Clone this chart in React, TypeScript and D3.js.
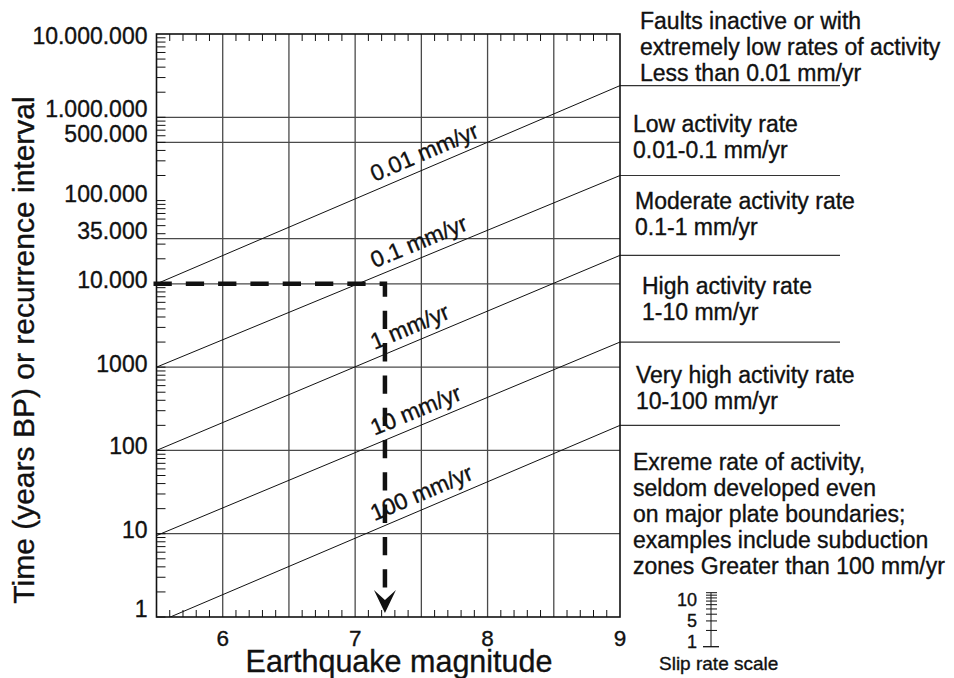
import React from "react";
import * as d3 from "d3";

// ---------- data ----------
// Earthquake magnitude axis
const magDomain: [number, number] = [5.5, 9];
const magGridValues = [6, 6.5, 7, 7.5, 8, 8.5];
const magTickLabels = [6, 7, 8, 9];

// Recurrence interval axis (years)
const timeDomain: [number, number] = [1, 1e7];
const timeLabelValues = [1e7, 1e6, 5e5, 1e5, 35000, 1e4, 1000, 100, 10, 1];
const timeLabelTexts = ["10.000.000", "1.000.000", "500.000", "100.000", "35.000", "10.000", "1000", "100", "10", "1"];
const timeGridValues = [1e6, 5e5, 35000, 1e4, 1000, 100, 10];

// Slip-rate lines: recurrence interval at M 5.5 and at M 9
const slipRateNames = ["0.01 mm/yr", "0.1 mm/yr", "1 mm/yr", "10 mm/yr", "100 mm/yr"];
const intervalAtMinMag = [10000, 1000, 100, 9.5, 0.85];
const intervalAtMaxMag = [2.4e6, 2.0e5, 2.2e4, 2000, 200];
const labelMagnitude = 7.17;

const exampleInterval = 10000;
const exampleMagnitude = 7.225;

// Activity classes
const classTexts: string[][] = [
  ["Faults inactive or with", "extremely low rates of activity", "Less than 0.01 mm/yr"],
  ["Low activity rate", "0.01-0.1 mm/yr"],
  ["Moderate activity rate", "0.1-1 mm/yr"],
  ["High activity rate", "1-10 mm/yr"],
  ["Very high activity rate", "10-100 mm/yr"],
  [
    "Exreme rate of activity,",
    "seldom developed even",
    "on major plate boundaries;",
    "examples include subduction",
    "zones Greater than 100 mm/yr",
  ],
];

// Slip rate scale
const slipScaleDomain: [number, number] = [1, 10];
const slipScaleLabels = ["10", "5", "1"];

// ---------- layout ----------
const W = 954;
const H = 678;
const FONT = "'Liberation Sans', Arial, Helvetica, sans-serif";
const INK = "#111";
const GRID = "#4a4a4a";
const TEXT_STROKE = 0.35;

const timeLabelDy = [10, 0, 0, 1, 0, 4, 5, 4, 4, 0];
const classPos = [
  { x: 640, y: 29 },
  { x: 633, y: 132 },
  { x: 635, y: 209 },
  { x: 642, y: 294 },
  { x: 636, y: 383 },
  { x: 633, y: 470 },
];
const classLineGap = 26;
const extensionEnd = 840;

export default function App() {
  const x = d3.scaleLinear().domain(magDomain).range([156.5, 620]);
  const y = d3.scaleLog().domain(timeDomain).range([617, 34]);

  const left = x(magDomain[0]);
  const right = x(magDomain[1]);
  const top = y(timeDomain[1]);
  const bottom = y(timeDomain[0]);

  // minor log ticks on the recurrence axis
  const yTicks: number[] = [];
  for (let d = 0; d < 7; d++) {
    for (let k = 1; k <= 9; k++) yTicks.push(k * Math.pow(10, d));
  }

  // 0.1 magnitude ticks
  const xTicks: number[] = [];
  for (let i = 1; i < 35; i++) {
    const m = 5.5 + i * 0.1;
    if (i % 5 !== 0) xTicks.push(m);
  }

  const line = d3
    .line<[number, number]>()
    .x((d) => x(d[0]))
    .y((d) => y(d[1]));

  const slipLines = slipRateNames.map((name, i) => {
    const t0 = intervalAtMinMag[i];
    const t1 = intervalAtMaxMag[i];
    const pts: [number, number][] = [
      [magDomain[0], t0],
      [magDomain[1], t1],
    ];
    const k = Math.log10(t1 / t0) / (magDomain[1] - magDomain[0]);
    const tAt = (m: number) => t0 * Math.pow(10, k * (m - magDomain[0]));
    const angle =
      (Math.atan2(y(t0) - y(t1), x(magDomain[1]) - x(magDomain[0])) * 180) / Math.PI;
    return { name, pts, tAt, angle, endY: y(t1) };
  });

  // slip rate scale
  const sx = 711;
  const sy = d3.scaleLog().domain(slipScaleDomain).range([646.7, 592.7]);
  const sTicks = d3.range(1, 11);

  const ex = x(exampleMagnitude);
  const ey = y(exampleInterval);
  const arrowTip = bottom - 4;

  return (
    <svg
      width={W}
      height={H}
      viewBox={`0 0 ${W} ${H}`}
      style={{ position: "absolute", left: 0, top: 0, background: "#fff" }}
      fontFamily={FONT}
    >
      <defs>
        <clipPath id="plot-clip">
          <rect x={left} y={top} width={right - left} height={bottom - top} />
        </clipPath>
      </defs>

      {/* grid */}
      <g stroke={GRID} strokeWidth={1.3}>
        {timeGridValues.map((v) => (
          <line key={"h" + v} x1={left} x2={right} y1={y(v)} y2={y(v)} />
        ))}
        {magGridValues.map((m) => (
          <line key={"v" + m} x1={x(m)} x2={x(m)} y1={top} y2={bottom} />
        ))}
      </g>

      {/* axis ticks */}
      <g stroke={INK} strokeWidth={1}>
        {yTicks.map((v) => (
          <line key={"yt" + v} x1={left} x2={left + 9} y1={y(v)} y2={y(v)} />
        ))}
        {xTicks.map((m) => (
          <g key={"xt" + m}>
            <line x1={x(m)} x2={x(m)} y1={bottom} y2={bottom - 7} />
            <line x1={x(m)} x2={x(m)} y1={top} y2={top + 7} />
          </g>
        ))}
      </g>

      {/* slip-rate lines */}
      <g clipPath="url(#plot-clip)" fill="none" stroke={INK} strokeWidth={1}>
        {slipLines.map((s) => (
          <path key={s.name} d={line(s.pts) || ""} />
        ))}
      </g>
      <g stroke="#333" strokeWidth={1.2}>
        {slipLines.map((s) => (
          <line key={"ext" + s.name} x1={right} x2={extensionEnd} y1={s.endY} y2={s.endY} />
        ))}
      </g>

      <g fill={INK} stroke={INK} strokeWidth={TEXT_STROKE}>
        {/* slip-rate labels */}
        <g fontSize={23}>
          {slipLines.map((s) => (
            <text
              key={"lab" + s.name}
              transform={`translate(${x(labelMagnitude)},${y(s.tAt(labelMagnitude))}) rotate(${-s.angle})`}
              dy={-8}
            >
              {s.name}
            </text>
          ))}
        </g>

        {/* y tick labels */}
        <g fontSize={23} textAnchor="end">
          {timeLabelValues.map((v, i) => (
            <text key={"yl" + v} x={147.5} y={y(v) + timeLabelDy[i]}>
              {timeLabelTexts[i]}
            </text>
          ))}
        </g>

        {/* x tick labels */}
        <g fontSize={22.5} textAnchor="middle">
          {magTickLabels.map((m) => (
            <text key={"xl" + m} x={x(m)} y={646}>
              {m}
            </text>
          ))}
        </g>

        {/* axis titles */}
        <text x={399} y={672} fontSize={30.5} textAnchor="middle">
          Earthquake magnitude
        </text>
        <text transform={`translate(34,350) rotate(-90)`} fontSize={30} textAnchor="middle">
          Time (years BP) or recurrence interval
        </text>

        {/* activity classes */}
        <g fontSize={23}>
          {classTexts.map((lines, i) => (
            <text key={"cls" + i} x={classPos[i].x} y={classPos[i].y}>
              {lines.map((t, j) => (
                <tspan key={j} x={classPos[i].x} dy={j === 0 ? 0 : classLineGap}>
                  {t}
                </tspan>
              ))}
            </text>
          ))}
        </g>

        {/* slip rate scale labels */}
        <g fontSize={18} textAnchor="end">
          {slipScaleLabels.map((t, i) => (
            <text key={"sl" + t} x={697} y={sy(1) + 1 - (slipScaleLabels.length - 1 - i) * 21}>
              {t}
            </text>
          ))}
        </g>
        <text x={659} y={670} fontSize={19}>
          Slip rate scale
        </text>
      </g>

      {/* frame */}
      <rect
        x={left}
        y={top}
        width={right - left}
        height={bottom - top}
        fill="none"
        stroke={INK}
        strokeWidth={1.6}
      />

      {/* worked example */}
      <path
        d={`M${left - 3},${ey}H${ex}V${arrowTip - 14}`}
        fill="none"
        stroke={INK}
        strokeWidth={4.5}
        strokeDasharray="18.3 14"
      />
      <path
        d={`M${ex},${arrowTip} L${ex - 11},${arrowTip - 23} L${ex},${arrowTip - 13} L${ex + 11},${arrowTip - 23} Z`}
        fill={INK}
      />

      {/* slip rate scale */}
      <g stroke={INK} strokeWidth={1}>
        <line x1={sx} x2={sx} y1={sy(10)} y2={sy(1)} />
        {sTicks.map((v) =>
          v === 1 ? (
            <line key={"st" + v} x1={sx - 8} x2={sx + 8} y1={sy(v)} y2={sy(v)} strokeWidth={1.3} />
          ) : (
            <line key={"st" + v} x1={sx - 5} x2={sx + 6} y1={sy(v)} y2={sy(v)} />
          )
        )}
      </g>
    </svg>
  );
}
